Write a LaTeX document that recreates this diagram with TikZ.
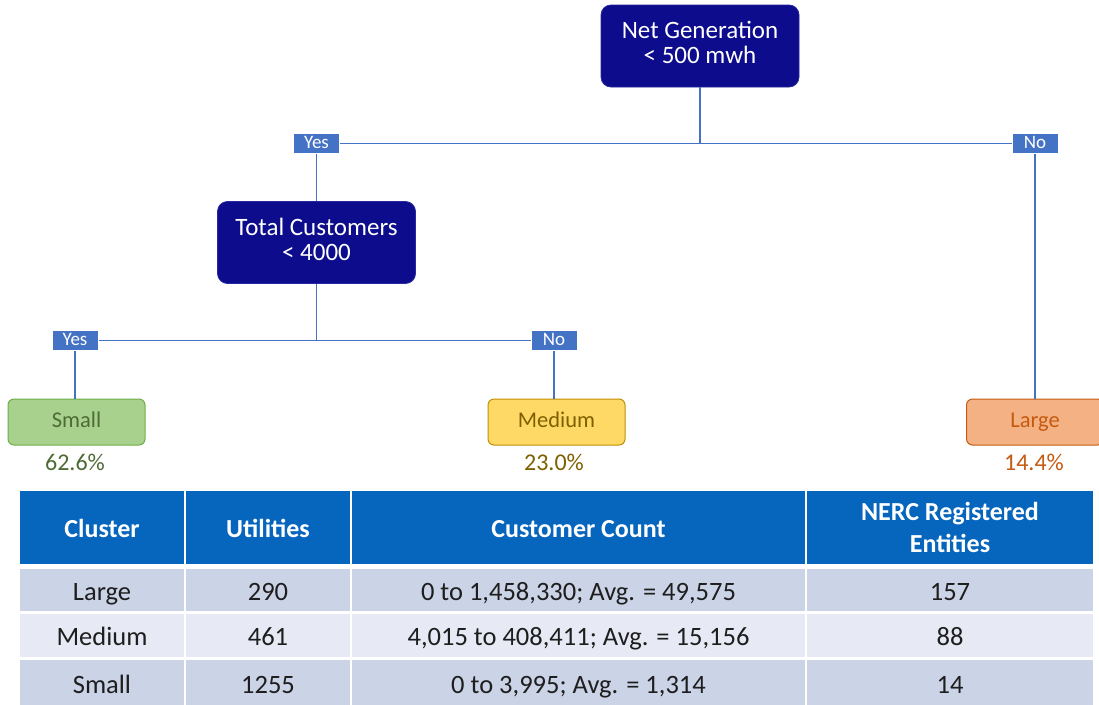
\documentclass[tikz,border=0pt]{standalone}
\usepackage{fontspec}
\setmainfont{Carlito}
\definecolor{navy}{RGB}{12,12,140}
\definecolor{navyb}{RGB}{40,40,160}
\definecolor{lbl}{RGB}{68,114,196}
\definecolor{smallf}{RGB}{169,209,142}
\definecolor{smalld}{RGB}{112,173,71}
\definecolor{smallt}{RGB}{78,107,53}
\definecolor{medf}{RGB}{255,217,102}
\definecolor{medd}{RGB}{191,144,0}
\definecolor{medt}{RGB}{127,96,0}
\definecolor{largef}{RGB}{244,177,131}
\definecolor{larged}{RGB}{197,90,17}
\definecolor{hdr}{RGB}{6,101,189}
\definecolor{rowa}{RGB}{203,211,231}
\definecolor{rowb}{RGB}{231,234,244}
\definecolor{ttext}{RGB}{30,30,30}
\tikzset{
  decision/.style={draw=navyb, line width=0.8pt, fill=navy, rounded corners=10pt, text=white,
    minimum width=198pt, minimum height=82pt, align=center, font=\fontsize{25}{25}\selectfont, inner sep=0pt,
    text depth=7pt},
  tag/.style={fill=lbl, draw=white, line width=0.6pt, text=white, minimum width=46pt, minimum height=20pt,
    inner sep=0pt, font=\fontsize{19}{19}\selectfont, text height=13pt, text depth=3pt},
  leaf/.style={rounded corners=6pt, line width=1pt, minimum width=137pt, minimum height=46pt, inner sep=0pt,
    font=\fontsize{22.5}{24}\selectfont, text height=15.5pt, text depth=4.5pt},
  pct/.style={font=\fontsize{24}{24}\selectfont, inner sep=0pt},
  conn/.style={draw=lbl, line width=1.6pt},
  cell/.style={inner sep=0pt, align=center, text=ttext, font=\fontsize{26.5}{30}\selectfont,
    text height=25pt, text depth=5pt},
  hcell/.style={cell, fill=hdr, text=white, font=\fontsize{26}{32}\selectfont\bfseries},
}
\begin{document}
\begin{tikzpicture}[x=1pt,y=-1pt]
\useasboundingbox (0,0) rectangle (1099,704);
\fill[white] (0,0) rectangle (1099,704);
% decision nodes
\node[decision] (net) at (700,46) {Net Generation\\< 500 mwh};
\node[decision] (tc) at (316.5,242.5) {Total Customers\\< 4000};
% tags
\node[tag] (yes1) at (316.5,143.5) {Yes};
\node[tag] (no1) at (1035,143.5) {No};
\node[tag] (yes2) at (75,340.5) {Yes};
\node[tag] (no2) at (554,340.5) {No};
% leaves
\node[leaf, fill=smallf, draw=smalld, text=smallt] (small) at (76.5,422) {Small};
\node[leaf, fill=medf, draw=medd, text=medt] (medium) at (556.5,422) {Medium};
\node[leaf, fill=largef, draw=larged, text=larged] (large) at (1035,422) {Large};
\node[pct, text=smallt] (psmall) at (75,462) {62.6\%};
\node[pct, text=medt] (pmed) at (554,462) {23.0\%};
\node[pct, text=larged] (plarge) at (1034,462) {14.4\%};
% junctions
\coordinate (j1) at (net.south |- yes1.center);
\coordinate (j2) at (tc.south |- yes2.center);
% connectors
\draw[conn] (net.south) -- (j1);
\draw[conn] (yes1.east) -- (no1.west);
\draw[conn] (yes1.south) -- (tc.north);
\draw[conn] (no1.south) -- (large.north);
\draw[conn] (tc.south) -- (j2);
\draw[conn] (yes2.east) -- (no2.west);
\draw[conn] (yes2.south) -- (small.north -| yes2.south);
\draw[conn] (no2.south) -- (medium.north -| no2.south);
% redraw tags on top
\node[tag] at (yes1) {Yes};
\node[tag] at (no1) {No};
\node[tag] at (yes2) {Yes};
\node[tag] at (no2) {No};
% table header
\node[hcell, minimum width=164pt, minimum height=73pt] (h1) at (102,527.5) {Cluster};
\node[hcell, minimum width=164pt, minimum height=73pt] (h2) at (268,527.5) {Utilities};
\node[hcell, minimum width=453pt, minimum height=73pt] (h3) at (578.5,527.5) {Customer Count};
\node[hcell, minimum width=286pt, minimum height=73pt, text height=, text depth=] (h4) at (950,527.5) {NERC Registered\\Entities};
% row 1
\node[cell, fill=rowa, minimum width=164pt, minimum height=42pt] (r1c1) at (102,590) {Large};
\node[cell, fill=rowa, minimum width=164pt, minimum height=42pt] (r1c2) at (268,590) {290};
\node[cell, fill=rowa, minimum width=453pt, minimum height=42pt] (r1c3) at (578.5,590) {0 to 1,458,330; Avg. = 49,575};
\node[cell, fill=rowa, minimum width=286pt, minimum height=42pt] (r1c4) at (950,590) {157};
% row 2
\node[cell, fill=rowb, minimum width=164pt, minimum height=43pt] (r2c1) at (102,635.5) {Medium};
\node[cell, fill=rowb, minimum width=164pt, minimum height=43pt] (r2c2) at (268,635.5) {461};
\node[cell, fill=rowb, minimum width=453pt, minimum height=43pt] (r2c3) at (578.5,635.5) {4,015 to 408,411; Avg. = 15,156};
\node[cell, fill=rowb, minimum width=286pt, minimum height=43pt] (r2c4) at (950,635.5) {88};
% row 3
\node[cell, fill=rowa, minimum width=164pt, minimum height=46pt] (r3c1) at (102,683) {Small};
\node[cell, fill=rowa, minimum width=164pt, minimum height=46pt] (r3c2) at (268,683) {1255};
\node[cell, fill=rowa, minimum width=453pt, minimum height=46pt] (r3c3) at (578.5,683) {0 to 3,995; Avg. = 1,314};
\node[cell, fill=rowa, minimum width=286pt, minimum height=46pt] (r3c4) at (950,683) {14};
\end{tikzpicture}
\end{document}
